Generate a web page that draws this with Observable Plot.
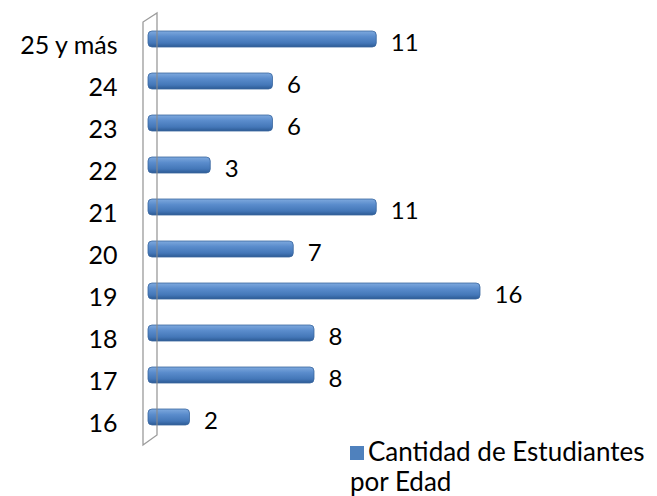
<!DOCTYPE html>
<html>
<head>
<meta charset="utf-8">
<script src="https://cdn.jsdelivr.net/npm/d3@7"></script>
<script src="https://cdn.jsdelivr.net/npm/@observablehq/plot@0.6"></script>
<style>
  html, body { margin: 0; padding: 0; background: #fff; }
  #wrap { position: relative; width: 657px; height: 496px; font-family: Lato, "Noto Sans", sans-serif; }
  #legend { position: absolute; left: 350px; top: 436px; font-size: 26px; line-height: 30px; color: #000; white-space: nowrap; }
  #legend .sw { display: inline-block; width: 14px; height: 14px; background: #4f81bd; margin-right: 4px; vertical-align: 1px; }
</style>
</head>
<body>
<div id="wrap">
  <div id="chart"></div>
  <div id="legend"></div>
</div>
<script>
const categories = ["16", "17", "18", "19", "20", "21", "22", "23", "24", "25 y más"];
const values = [2, 8, 8, 16, 7, 11, 3, 6, 6, 11];
const seriesName = "Cantidad de Estudiantes por Edad";

const data = categories.map((c, i) => ({edad: c, n: values[i]}));
const order = categories.slice().reverse();

const defs = () => {
  const d = d3.create("svg:defs");
  const g = d.append("linearGradient").attr("id", "barGrad")
    .attr("x1", 0).attr("y1", 0).attr("x2", 0).attr("y2", 1);
  g.append("stop").attr("offset", "0%").attr("stop-color", "#7ea9de");
  g.append("stop").attr("offset", "35%").attr("stop-color", "#5a8ccc");
  g.append("stop").attr("offset", "75%").attr("stop-color", "#4477b8");
  g.append("stop").attr("offset", "100%").attr("stop-color", "#2c5a94");
  return d.node();
};

const wall = (index, scales, values, dims) => {
  const x0 = scales.x(0) - 5;
  const top = dims.marginTop;
  const bottom = dims.height - dims.marginBottom;
  const p = d3.create("svg:path")
    .attr("d", `M${x0},${top + 12}L${x0},${bottom - 1}L${x0 + 14},${bottom - 11}L${x0 + 14},${top + 3}Z`)
    .attr("fill", "none")
    .attr("stroke", "#8a8a8a")
    .attr("stroke-width", 1.3)
    .attr("stroke-opacity", 0.85);
  return p.node();
};

const chart = Plot.plot({
  width: 657,
  height: 456,
  marginLeft: 148,
  marginRight: 177,
  marginTop: 10,
  marginBottom: 10,
  style: {fontFamily: "Lato, 'Noto Sans', sans-serif", background: "white", color: "#000"},
  x: {domain: [0, 16], axis: null},
  y: {domain: order, paddingInner: 0.62, paddingOuter: 0.5, label: null},
  marks: [
    defs,
    Plot.barX(data, {x: "n", y: "edad", fill: "url(#barGrad)", stroke: "#3a679f", strokeWidth: 0.8, rx: 4}),
    wall,
    Plot.axisY({tickSize: 0, tickPadding: 31, dy: 6, fontSize: 25, label: null}),
    Plot.text(data, {x: "n", y: "edad", text: d => String(d.n), dx: 14, dy: 4, textAnchor: "start", fontSize: 24, fill: "#000"})
  ]
});
document.getElementById("chart").appendChild(chart);

const words = seriesName.split(" ");
document.getElementById("legend").innerHTML =
  `<span class="sw"></span>${words.slice(0, 3).join(" ")}<br>${words.slice(3).join(" ")}`;
</script>
</body>
</html>
